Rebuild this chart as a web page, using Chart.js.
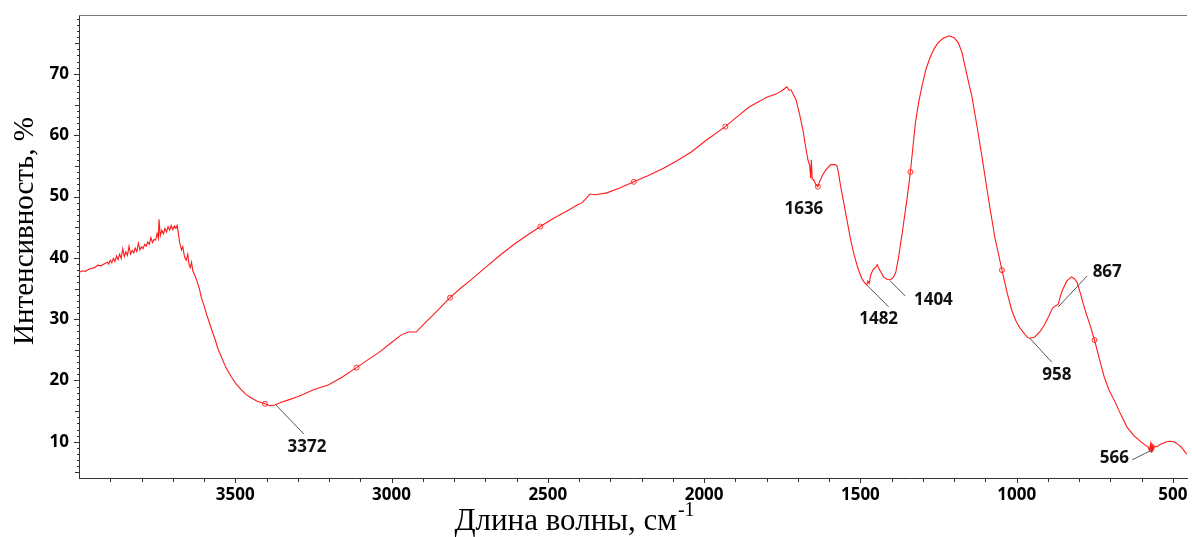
<!DOCTYPE html>
<html>
<head>
<meta charset="utf-8">
<script src="https://cdn.jsdelivr.net/npm/chart.js@4"></script>
<style>
  html, body { margin: 0; padding: 0; background: #fff; }
  #wrap { width: 1192px; height: 537px; }
</style>
</head>
<body>
<div id="wrap"><canvas id="c" width="1192" height="537"></canvas></div>
<script>
// IR spectrum: wavenumber (cm^-1) and intensity (%)
const wavenumbers = [
  4000, 3990, 3980, 3970, 3960, 3950, 3940, 3930, 3920, 3910, 3905, 3900, 3895, 3890, 3885, 3880,
  3875, 3870, 3865, 3860, 3855, 3850, 3845, 3840, 3835, 3830, 3825, 3820, 3815, 3810, 3805, 3800,
  3795, 3790, 3785, 3780, 3775, 3770, 3765, 3760, 3755, 3750, 3746, 3744, 3740, 3735, 3730, 3725,
  3720, 3715, 3710, 3705, 3700, 3695, 3690, 3686, 3682, 3678, 3672, 3668, 3662, 3657, 3652, 3648,
  3644, 3640, 3636, 3630, 3625, 3620, 3615, 3609, 3600, 3590, 3586, 3575, 3564, 3555, 3545, 3530,
  3513, 3497, 3481, 3465, 3450, 3430, 3405, 3390, 3373, 3355, 3332, 3303, 3280, 3250, 3201, 3160,
  3112, 3075, 3042, 3000, 2970, 2947, 2921, 2893, 2861, 2813, 2780, 2746, 2700, 2651, 2600, 2560,
  2524, 2480, 2430, 2406, 2390, 2370, 2365, 2349, 2311, 2270, 2225, 2180, 2130, 2088, 2040, 1990,
  1932, 1890, 1856, 1820, 1800, 1770, 1750, 1740, 1735, 1728, 1722, 1716, 1706, 1695, 1684, 1676,
  1668, 1662, 1659, 1657, 1654, 1649, 1642, 1636, 1630, 1620, 1611, 1595, 1582, 1575, 1570, 1563,
  1555, 1547, 1531, 1520, 1509, 1500, 1493, 1486, 1480, 1476, 1472, 1467, 1460, 1451, 1446, 1442,
  1436, 1426, 1415, 1404, 1395, 1387, 1378, 1366, 1358, 1350, 1340, 1332, 1324, 1313, 1302, 1290,
  1276, 1263, 1251, 1235, 1216, 1200, 1187, 1175, 1165, 1155, 1143, 1127, 1111, 1098, 1086, 1070,
  1047, 1030, 1016, 1003, 990, 975, 965, 958, 942, 925, 911, 897, 885, 875, 867, 860,
  853, 840, 825, 815, 806, 795, 783, 765, 751, 735, 720, 705, 688, 670, 647, 625,
  602, 590, 580, 575, 572, 570, 568, 566, 564, 562, 558, 551, 540, 530, 520, 510,
  497, 490, 482, 475, 468, 459, 455
];
const intensity = [
  37.6, 37.9, 37.8, 38.1, 38.3, 38.4, 38.8, 38.7, 39.0, 39.3, 39.0, 39.6, 39.2, 39.9, 39.4, 40.3,
  39.7, 40.6, 39.9, 41.5, 40.2, 41.0, 40.4, 41.9, 40.6, 41.2, 40.8, 41.6, 41.0, 42.4, 41.3, 41.8,
  41.5, 42.2, 41.9, 42.6, 42.2, 43.3, 42.5, 43.0, 42.9, 44.0, 43.2, 46.3, 43.6, 44.5, 43.9, 44.8,
  44.2, 45.1, 44.5, 45.3, 44.6, 45.2, 44.8, 45.3, 44.0, 42.5, 41.3, 41.8, 40.1, 39.6, 40.6, 38.9,
  38.4, 39.3, 37.9, 37.2, 36.6, 35.8, 35.0, 33.6, 32.2, 30.5, 29.9, 28.2, 26.6, 25.1, 23.9, 22.1,
  20.6, 19.4, 18.5, 17.7, 17.2, 16.6, 16.2, 15.9, 16.0, 16.4, 16.8, 17.3, 17.8, 18.5, 19.3, 20.5,
  22.1, 23.4, 24.5, 26.2, 27.4, 27.9, 27.9, 29.4, 31.0, 33.5, 35.0, 36.4, 38.4, 40.5, 42.5, 43.9,
  45.1, 46.5, 47.9, 48.6, 49.0, 50.1, 50.4, 50.3, 50.6, 51.4, 52.4, 53.4, 54.6, 55.8, 57.3, 59.3,
  61.4, 63.2, 64.6, 65.6, 66.2, 66.7, 67.3, 67.7, 67.9, 67.3, 67.4, 66.8, 65.8, 63.5, 60.9, 58.4,
  56.0, 55.0, 53.0, 56.0, 52.8, 52.7, 51.9, 51.6, 52.5, 53.6, 54.3, 55.2, 55.2, 55.0, 53.8, 51.6,
  49.5, 47.3, 42.9, 40.5, 38.5, 37.2, 36.4, 35.9, 35.6, 36.2, 35.8, 37.2, 38.0, 38.5, 38.9, 38.4,
  37.8, 36.9, 36.5, 36.4, 36.8, 37.6, 40.0, 44.1, 47.0, 49.9, 54.0, 58.0, 62.0, 65.5, 68.2, 70.8,
  72.8, 74.2, 75.1, 75.8, 76.2, 75.9, 75.1, 73.5, 71.2, 68.9, 66.3, 61.5, 56.5, 52.2, 48.3, 43.4,
  38.0, 34.2, 31.5, 29.8, 28.6, 27.6, 27.0, 26.9, 27.1, 28.0, 29.1, 30.5, 31.8, 32.2, 32.4, 33.8,
  34.8, 36.2, 36.9, 36.6, 35.9, 34.0, 31.8, 29.0, 26.6, 23.5, 20.6, 18.5, 16.8, 14.8, 12.4, 11.0,
  10.0, 9.5, 9.2, 8.6, 9.6, 8.3, 9.9, 8.5, 9.6, 8.8, 9.3, 9.2, 9.6, 9.8, 10.0, 10.1,
  10.0, 9.8, 9.5, 9.2, 8.8, 8.2, 8.0
];

// Open-circle markers placed along the trace
const markerWn  = [3405, 3112, 2813, 2524, 2225, 1932, 1636, 1340, 1047, 751];
const markerVal = [16.2, 22.1, 33.5, 45.1, 52.4, 61.4, 51.6, 54.0, 38.0, 26.6];

// Picked peaks
const peakText = ['3372', '1636', '1482', '1404', '958', '867', '566'];
const peakWn   = [3370, 1636, 1480, 1404, 958, 867, 566];
const peakVal  = [16.0, 51.6, 35.6, 36.2, 26.9, 32.0, 8.7];

// Axis tick labels
const xTickLabels = [500, 1000, 1500, 2000, 2500, 3000, 3500];
const yTickLabels = [10, 20, 30, 40, 50, 60, 70];

// Label placement relative to each peak (pixels): leader end, text centre
const peakLayout = {
  '3372': { line: [28, 29],  text: [31, 42] },
  '1636': { line: null,      text: [-14, 22] },
  '1482': { line: [22, 22],  text: [12, 34] },
  '1404': { line: [15, 15],  text: [43, 19] },
  '958':  { line: [22, 24],  text: [27, 37] },
  '867':  { line: [29, -31], text: [49, -35] },
  '566':  { line: [-20, 10], text: [-38, 8] }
};

const spectrum = wavenumbers.map((w, i) => ({ x: w, y: intensity[i] }));
const markers = markerWn.map((w, i) => ({ x: w, y: markerVal[i] }));

const tickFont = { family: '"Open Sans", "DejaVu Sans", sans-serif', size: 17, weight: 'bold' };

const axisDecor = {
  id: 'axisDecor',
  afterDraw(chart) {
    const { ctx, chartArea: a, scales: { x, y } } = chart;
    ctx.save();
    // frame line along the top
    ctx.strokeStyle = '#7a7a7a';
    ctx.lineWidth = 1;
    ctx.beginPath();
    ctx.moveTo(a.left, a.top + 0.5);
    ctx.lineTo(a.right, a.top + 0.5);
    ctx.stroke();

    // tick marks
    ctx.strokeStyle = '#333';
    ctx.beginPath();
    for (let v = 500; v < 4000; v += 100) {
      const px = Math.round(x.getPixelForValue(v)) + 0.5;
      const len = xTickLabels.includes(v) ? 5 : 4;
      ctx.moveTo(px, a.bottom);
      ctx.lineTo(px, a.bottom + len);
    }
    for (let v = 5; v <= 79; v += 1) {
      const py = Math.round(y.getPixelForValue(v)) + 0.5;
      const len = yTickLabels.includes(v) ? 5 : (v % 5 === 0 ? 4 : 2);
      ctx.moveTo(a.left, py);
      ctx.lineTo(a.left - len, py);
    }
    ctx.stroke();

    // axis titles
    ctx.fillStyle = '#000';
    ctx.textBaseline = 'alphabetic';
    const serif = '"Liberation Serif", "DejaVu Serif", serif';
    ctx.font = '31px ' + serif;
    const main = 'Длина волны, см';
    const wMain = ctx.measureText(main).width;
    ctx.font = '20px ' + serif;
    const sup = '-1';
    const wSup = ctx.measureText(sup).width;
    const cx = 574;
    const start = cx - (wMain + wSup) / 2;
    ctx.font = '31px ' + serif;
    ctx.textAlign = 'left';
    ctx.fillText(main, start, 530);
    ctx.font = '20px ' + serif;
    ctx.fillText(sup, start + wMain + 1, 516);

    ctx.save();
    ctx.translate(33, 231);
    ctx.rotate(-Math.PI / 2);
    ctx.font = '29px ' + serif;
    ctx.textAlign = 'center';
    ctx.fillText('Интенсивность, %', 0, 0);
    ctx.restore();
    ctx.restore();
  },
  afterDatasetsDraw(chart) {
    const { ctx, scales: { x, y } } = chart;
    ctx.save();
    ctx.font = 'bold 17px "Open Sans", "DejaVu Sans", sans-serif';
    ctx.textAlign = 'center';
    ctx.textBaseline = 'middle';
    peakText.forEach((t, i) => {
      const px = x.getPixelForValue(peakWn[i]);
      const py = y.getPixelForValue(peakVal[i]);
      const lay = peakLayout[t];
      if (lay.line) {
        ctx.strokeStyle = '#555';
        ctx.lineWidth = 1;
        ctx.beginPath();
        ctx.moveTo(px, py);
        ctx.lineTo(px + lay.line[0], py + lay.line[1]);
        ctx.stroke();
      }
      ctx.fillStyle = '#111';
      ctx.fillText(t, px + lay.text[0], py + lay.text[1]);
    });
    ctx.restore();
  }
};

new Chart(document.getElementById('c'), {
  type: 'line',
  data: {
    datasets: [
      {
        data: spectrum,
        borderColor: '#ff1a1a',
        borderWidth: 1.1,
        pointRadius: 0,
        tension: 0,
        fill: false
      },
      {
        data: markers,
        showLine: false,
        pointRadius: 2.5,
        pointStyle: 'circle',
        pointBorderColor: '#ff3030',
        pointBackgroundColor: 'rgba(255,255,255,0)',
        pointBorderWidth: 1
      }
    ]
  },
  options: {
    responsive: false,
    animation: false,
    layout: { padding: { top: 15, right: 0, left: 0, bottom: 0 } },
    plugins: { legend: { display: false }, tooltip: { enabled: false } },
    scales: {
      x: {
        type: 'linear',
        reverse: true,
        min: 455,
        max: 4000,
        grid: { display: false, drawTicks: false },
        border: { display: true, color: '#333', width: 1 },
        afterBuildTicks(s) { s.ticks = xTickLabels.map(v => ({ value: v })); },
        ticks: {
          autoSkip: false,
          maxRotation: 0,
          padding: 7,
          color: '#000',
          font: tickFont,
          callback: v => String(v)
        },
        afterFit(s) { s.height = 59; s.paddingLeft = 0; s.paddingRight = 0; }
      },
      y: {
        type: 'linear',
        min: 4.1,
        max: 79.6,
        grid: { display: false, drawTicks: false },
        border: { display: true, color: '#333', width: 1 },
        afterBuildTicks(s) { s.ticks = yTickLabels.map(v => ({ value: v })); },
        ticks: {
          autoSkip: false,
          padding: 10,
          color: '#000',
          font: tickFont,
          callback: v => String(v)
        },
        afterFit(s) { s.width = 79; s.paddingTop = 0; s.paddingBottom = 0; }
      }
    }
  },
  plugins: [axisDecor]
});
</script>
</body>
</html>
